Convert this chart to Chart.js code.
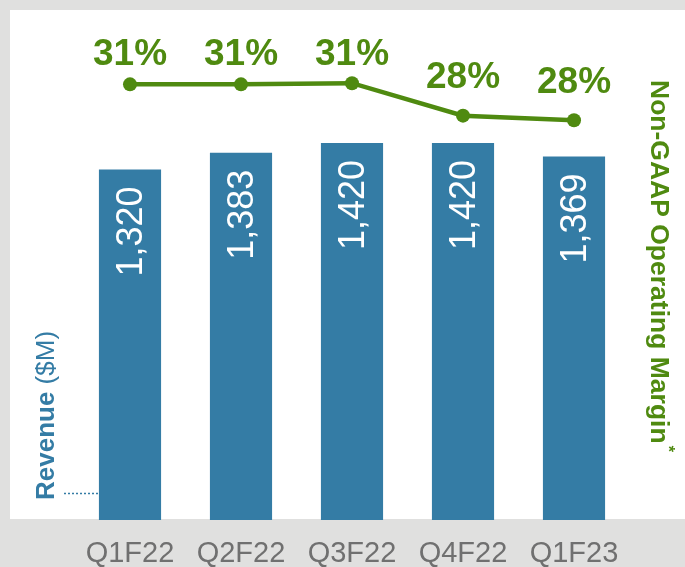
<!DOCTYPE html>
<html><head><meta charset="utf-8">
<script src="https://cdn.jsdelivr.net/npm/chart.js@4"></script>
<style>html,body{margin:0;padding:0;background:#e0e0df;overflow:hidden}#wrap{width:685px;height:567px;position:relative}</style>
</head><body><div id="wrap"><canvas id="c" width="685" height="567"></canvas></div>
<script>
const quarters = ['Q1F22','Q2F22','Q3F22','Q4F22','Q1F23'];
const revenue = [1320, 1383, 1420, 1420, 1369];
const revenueLabels = ['1,320','1,383','1,420','1,420','1,369'];
const margin = [31.0, 31.0, 31.1, 28.3, 27.9];
const marginLabels = ['31%','31%','31%','28%','28%'];

const BLUE = '#347ca5';
const GREEN = '#4f8a10';
const FONT = '"Liberation Sans", Arial, sans-serif';

const deco = {
  id: 'deco',
  beforeDraw(chart) {
    const c = chart.ctx; c.save();
    c.fillStyle = '#e0e0df'; c.fillRect(0, 0, chart.width, chart.height);
    c.fillStyle = '#ffffff'; c.fillRect(10, 10, chart.width - 10, 509);
    c.restore();
  },
  afterDatasetsDraw(chart, args, opts) {
    const c = chart.ctx;
    c.save();
    // bar value labels
    const bars = chart.getDatasetMeta(0).data;
    c.fillStyle = '#ffffff';
    c.font = '36px ' + FONT;
    c.textAlign = 'right'; c.textBaseline = 'middle';
    bars.forEach((b, i) => {
      c.save(); c.translate(b.x + 2, b.y + 17); c.rotate(-Math.PI / 2);
      c.fillText(revenueLabels[i], 0, 0); c.restore();
    });
    // margin labels
    const pts = chart.getDatasetMeta(1).data;
    c.fillStyle = GREEN;
    c.font = 'bold 37px ' + FONT;
    c.textAlign = 'center'; c.textBaseline = 'alphabetic';
    pts.forEach((p, i) => { c.fillText(marginLabels[i], p.x, p.y - opts.labelGap[i]); });
    // left title
    c.save(); c.translate(54, 500); c.rotate(-Math.PI / 2);
    c.fillStyle = BLUE; c.textAlign = 'left';
    c.font = 'bold 26px ' + FONT; c.fillText('Revenue', 0, 0);
    const w1 = c.measureText('Revenue').width;
    c.font = '26px ' + FONT; c.fillText(' ($M)', w1, 0);
    c.restore();
    // right title
    c.save(); c.translate(651, 80); c.rotate(Math.PI / 2);
    c.fillStyle = GREEN; c.textAlign = 'left';
    c.font = 'bold 26.5px ' + FONT; c.fillText('Non-GAAP Operating Margin', 0, 0);
    const w2 = c.measureText('Non-GAAP Operating Margin').width;
    c.font = 'bold 16px ' + FONT; c.fillText('*', w2 + 2, -12);
    c.restore();
    // dotted leader
    c.strokeStyle = BLUE; c.lineWidth = 1.5; c.setLineDash([2, 2]);
    c.beginPath(); c.moveTo(64, 493.5); c.lineTo(chart.chartArea.left + 25, 493.5); c.stroke();
    c.restore();
  }
};

new Chart(document.getElementById('c'), {
  data: {
    labels: quarters,
    datasets: [
      { type: 'bar', data: revenue, backgroundColor: BLUE, yAxisID: 'y', order: 1,
        categoryPercentage: 1, barPercentage: 0.56 },
      { type: 'line', data: margin, yAxisID: 'y2', order: 0, borderColor: GREEN,
        backgroundColor: GREEN, borderWidth: 4.5, pointRadius: 7, pointBackgroundColor: GREEN,
        pointBorderWidth: 0, tension: 0 }
    ]
  },
  options: {
    responsive: false, animation: false, devicePixelRatio: 1,
    layout: { padding: { left: 74.5, right: 55.5, top: 42, bottom: -20 } },
    plugins: { legend: { display: false }, tooltip: { enabled: false },
      deco: { labelGap: [19, 19, 18, 28, 27] } },
    scales: {
      x: { grid: { display: false, drawTicks: false }, border: { display: false },
        ticks: { color: '#707070', font: { family: FONT, size: 29, lineHeight: 1 }, padding: 19,
          maxRotation: 0, autoSkip: false } },
      y: { display: false, min: 0, max: 1800 },
      y2: { display: false, position: 'right', min: -6.56, max: 34.65 }
    }
  },
  plugins: [deco]
});
</script></body></html>
